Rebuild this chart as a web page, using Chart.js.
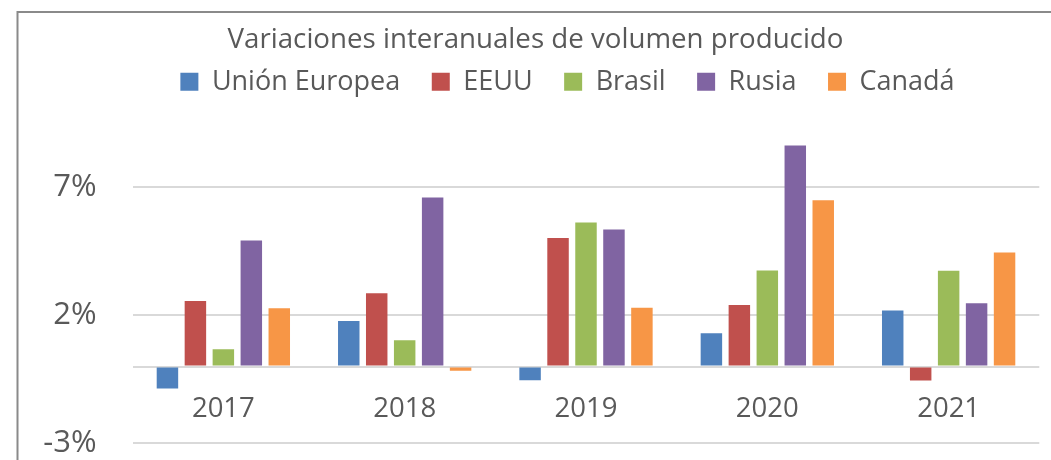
<!DOCTYPE html>
<html>
<head>
<meta charset="utf-8">
<script src="https://cdn.jsdelivr.net/npm/chart.js@4.4.1/dist/chart.umd.min.js"></script>
<style>
  html, body { margin: 0; padding: 0; background: #ffffff; overflow: hidden; }
  #wrap { position: relative; width: 1051px; height: 460px; overflow: hidden; }
  canvas { display: block; }
</style>
</head>
<body>
<div id="wrap"><canvas id="c" width="1051" height="498"></canvas></div>
<script>
// ---- Data ----
const titleText = 'Variaciones interanuales de volumen producido';
const categories = ['2017', '2018', '2019', '2020', '2021'];
const seriesNames = ['Unión Europea', 'EEUU', 'Brasil', 'Rusia', 'Canadá'];
const unionEuropea = [-0.86, 1.78, -0.53, 1.30, 2.19];
const eeuu = [2.56, 2.86, 5.02, 2.40, -0.54];
const brasil = [0.68, 1.03, 5.63, 3.75, 3.74];
const rusia = [4.92, 6.60, 5.35, 8.63, 2.47];
const canada = [2.28, -0.16, 2.30, 6.49, 4.45];
const yTickValues = [-3, 2, 7];
const zeroLine = 0;

// ---- Styles ----
const colors = ['#4F81BD', '#C0504D', '#9BBB59', '#8064A2', '#F79646'];
const textColor = '#595959';
const gridColor = '#D9D9D9';
const fontFamily = "'Open Sans', 'Noto Sans', sans-serif";

const seriesValues = [unionEuropea, eeuu, brasil, rusia, canada];

const framePlugin = {
  id: 'frame',
  beforeDraw(chart) {
    const ctx = chart.ctx;
    ctx.save();
    ctx.strokeStyle = '#8A8A8A';
    ctx.lineWidth = 2;
    ctx.beginPath();
    ctx.moveTo(17.5, 520);
    ctx.lineTo(17.5, 12);
    ctx.lineTo(1060, 12);
    ctx.stroke();
    ctx.restore();
  }
};

const legendShift = {
  id: 'legendShift',
  afterLayout(chart) {
    const lg = chart.legend;
    if (lg) { lg.left += 32; lg.right += 32; }
  }
};

new Chart(document.getElementById('c'), {
  type: 'bar',
  data: {
    labels: categories,
    datasets: seriesNames.map((name, i) => ({
      label: name,
      data: seriesValues[i],
      backgroundColor: colors[i],
      borderWidth: 0,
      categoryPercentage: 0.771,
      barPercentage: 0.768
    }))
  },
  plugins: [framePlugin, legendShift],
  options: {
    responsive: false,
    devicePixelRatio: 1,
    animation: false,
    layout: { padding: { left: 31.7, right: 11.7, top: 0, bottom: 0 } },
    plugins: {
      title: {
        display: true,
        text: titleText,
        color: textColor,
        font: { family: fontFamily, size: 27.7, weight: 'normal' },
        padding: { top: 23, bottom: -19.4 }
      },
      legend: {
        display: true,
        position: 'top',
        labels: {
          color: textColor,
          font: { family: fontFamily, size: 27 },
          boxWidth: 18,
          boxHeight: 18,
          padding: 31.5
        }
      },
      tooltip: { enabled: false }
    },
    scales: {
      x: {
        position: { y: 0 },
        grid: { display: false, drawTicks: false },
        border: { display: false },
        ticks: {
          color: textColor,
          font: { family: fontFamily, size: 27.5 },
          padding: 26,
          maxRotation: 0
        },
        afterFit(scale) { scale.height = 0; }
      },
      y: {
        min: -3,
        max: 10.2,
        grid: { color: gridColor, lineWidth: 2, drawTicks: false },
        border: { display: false },
        ticks: {
          color: textColor,
          font: { family: fontFamily, size: 31 },
          padding: 36,
          callback: (v) => (v === zeroLine ? '' : v + '%')
        },
        afterBuildTicks(axis) {
          const vals = yTickValues.concat([zeroLine]).sort((a, b) => a - b);
          axis.ticks = vals.map(v => ({ value: v }));
        },
        afterFit(scale) { scale.width = 101; }
      }
    }
  }
});
</script>
</body>
</html>
